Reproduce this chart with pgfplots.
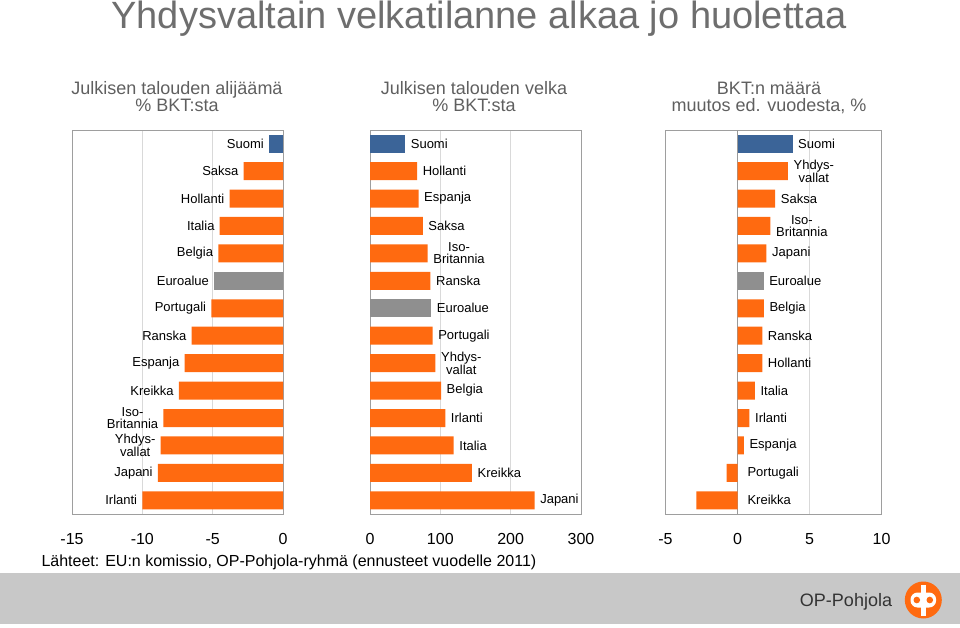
\documentclass[border=0pt]{standalone}
\usepackage{fontspec}
\setmainfont{Liberation Sans}
\usepackage{pgfplots}
\pgfplotsset{compat=1.18}
\definecolor{opor}{HTML}{FF6A10}
\definecolor{opblue}{HTML}{3B6498}
\definecolor{opgray}{HTML}{8F8F8F}
\definecolor{titlegray}{HTML}{6E6E6E}
\definecolor{subgray}{HTML}{5F5F5F}
\definecolor{footgray}{HTML}{C8C8C8}
\pgfplotsset{
  panel/.style={
    scale only axis, height=384pt, ymin=-0.5, ymax=13.5, ytick=\empty,
    axis line style={black!38}, xmajorgrids, major grid style={black!15},
    major tick length=0pt,
    xticklabel style={anchor=base, yshift=-30pt, font=\fontsize{16}{16}\selectfont},
    clip=false, anchor=south west,
  },
  barstyle/.style={xbar, bar width=18pt, bar shift=0pt, draw=none},
  labstyle/.style={draw=none, mark=none,
    nodes near coords, point meta=explicit symbolic,
    nodes near coords style={font=\fontsize{13}{12}\selectfont, align=center,
      inner sep=0pt, text=black, #1}},
}
\begin{document}
\begin{tikzpicture}
\useasboundingbox (0pt,0pt) rectangle (960pt,627pt);
% title
\node[anchor=base, text=titlegray, font=\fontsize{38}{40}\selectfont] at (479pt,598.5pt) {Yhdysvaltain velkatilanne alkaa jo huolettaa};
% subtitles
\begin{scope}[every node/.style={anchor=base, text=subgray, font=\fontsize{18}{20}\selectfont}]
\node at (177pt,532pt) {Julkisen talouden alijäämä};
\node at (177pt,515pt) {\% BKT:sta};
\node at (474pt,532pt) {Julkisen talouden velka};
\node at (474pt,515pt) {\% BKT:sta};
\node at (769pt,532pt) {BKT:n määrä};
\node at (769pt,515pt) {muutos ed. vuodesta, \%};
\end{scope}

% panel 1: deficit
\begin{axis}[panel, at={(72pt,113pt)}, width=211pt, xmin=-15, xmax=0,
  xtick={-15,-10,-5,0}, xticklabels={-15,-10,-5,0}]
\addplot[barstyle, fill=opblue] coordinates {(-1.0,13)};
\addplot[barstyle, fill=opgray] coordinates {(-4.9,8)};
\addplot[barstyle, fill=opor] coordinates {
  (-2.8,12) (-3.8,11) (-4.5,10) (-4.6,9) (-5.1,7) (-6.5,6) (-7.0,5)
  (-7.4,4) (-8.5,3) (-8.7,2) (-8.9,1) (-10.0,0)};
\addplot[labstyle={anchor=east, xshift=-5pt}] coordinates {
  (-1.0,13) [Suomi] (-2.8,12) [Saksa] (-3.8,11) [Hollanti] (-4.5,10) [Italia]
  (-4.6,9) [Belgia] (-4.9,8) [Euroalue] (-5.1,7) [Portugali] (-6.5,6) [Ranska]
  (-7.0,5) [Espanja] (-7.4,4) [Kreikka] (-8.5,3) [{Iso-\\Britannia}]
  (-8.7,2) [{Yhdys-\\vallat}] (-8.9,1) [Japani] (-10.0,0) [Irlanti]};
\end{axis}

% panel 2: debt
\begin{axis}[panel, at={(370pt,113pt)}, width=211pt, xmin=0, xmax=300,
  xtick={0,100,200,300}, xticklabels={0,100,200,300}]
\addplot[barstyle, fill=opblue] coordinates {(50,13)};
\addplot[barstyle, fill=opgray] coordinates {(87,7)};
\addplot[barstyle, fill=opor] coordinates {
  (67,12) (69,11) (75,10) (82,9) (86,8) (89,6) (93,5) (101,4) (107,3)
  (119,2) (145,1) (234,0)};
\addplot[labstyle={anchor=west, xshift=5.5pt}] coordinates {
  (50,13) [Suomi] (67,12) [Hollanti] (69,11) [Espanja] (75,10) [Saksa]
  (82,9) [{Iso-\\Britannia}] (86,8) [Ranska] (87,7) [Euroalue] (89,6) [Portugali]
  (93,5) [{Yhdys-\\vallat}] (101,4) [Belgia] (107,3) [Irlanti] (119,2) [Italia]
  (145,1) [Kreikka] (234,0) [Japani]};
\end{axis}

% panel 3: GDP growth
\begin{axis}[panel, at={(665.5pt,113pt)}, width=216pt, xmin=-5, xmax=10,
  xtick={-5,0,5,10}, xticklabels={-5,0,5,10},
  extra x ticks={0}, extra x tick labels={},
  extra x tick style={major grid style={black!40}}]
\addplot[barstyle, fill=opblue] coordinates {(3.82,13)};
\addplot[barstyle, fill=opgray] coordinates {(1.81,8)};
\addplot[barstyle, fill=opor] coordinates {
  (3.5,12) (2.62,11) (2.29,10) (2.01,9) (1.83,7) (1.72,6) (1.72,5)
  (1.21,4) (0.83,3) (0.44,2) (-0.76,1) (-2.85,0)};
\addplot[labstyle={anchor=west, xshift=5.5pt}] coordinates {
  (3.82,13) [Suomi] (3.5,12) [{Yhdys-\\vallat}] (2.62,11) [Saksa]
  (2.29,10) [{Iso-\\Britannia}] (2.01,9) [Japani] (1.81,8) [Euroalue]
  (1.83,7) [Belgia] (1.72,6) [Ranska] (1.72,5) [Hollanti] (1.21,4) [Italia]
  (0.83,3) [Irlanti] (0.44,2) [Espanja] (0.3,1) [Portugali] (0.3,0) [Kreikka]};
\end{axis}

% source
\node[anchor=base west, font=\fontsize{16}{17}\selectfont] at (38pt,60.5pt) {Lähteet: EU:n komissio, OP-Pohjola-ryhmä (ennusteet vuodelle 2011)};
% footer
\begin{scope}[x=1pt,y=1pt]
\fill[footgray] (0,3) rectangle (960,54);
\node[anchor=center, text=black!80, font=\fontsize{18}{20}\selectfont] at (846,25.5) {OP-Pohjola};
\fill[opor] (923.3,27) circle (18.5);
\fill[white, rounded corners=7pt] (910.5,19.5) rectangle (936.1,34.5);
\fill[white] (921,11.5) rectangle (925.6,42.5);
\fill[opor] (916.8,27) circle (3.3);
\fill[opor] (929.8,27) circle (3.3);
\end{scope}
\end{tikzpicture}
\end{document}
